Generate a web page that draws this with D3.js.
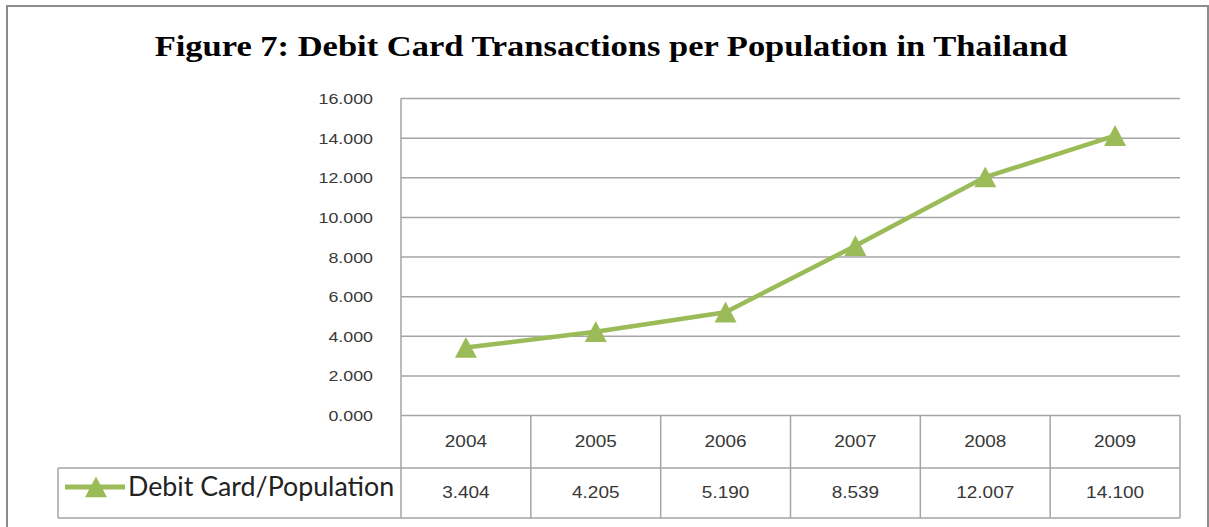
<!DOCTYPE html>
<html>
<head>
<meta charset="utf-8">
<script src="https://cdn.jsdelivr.net/npm/d3@7"></script>
<style>
  html, body { margin: 0; padding: 0; background: #fff; }
  svg { display: block; }
</style>
</head>
<body>
<svg id="chart" width="1209" height="527"></svg>
<script>
// Debit card transactions per head of population, Thailand
const title = "Figure 7: Debit Card Transactions per Population in Thailand";
const years = ["2004", "2005", "2006", "2007", "2008", "2009"];
const debitPerPopulation = [3.404, 4.205, 5.190, 8.539, 12.007, 14.100];
const seriesName = "Debit Card/Population";
const yTicks = [0, 2, 4, 6, 8, 10, 12, 14, 16];

const W = 1209, H = 527;
const green = "#9bbb59";
const gridColor = "#a5a5a5";
const textColor = "#383838";
const stretch = 1.15; // horizontal stretch applied to the lettering

const plot = { left: 401, right: 1180, top: 98, bottom: 415 };
const table = { legendLeft: 58, row1: 468, bottom: 518 };

const svg = d3.select("#chart");

const x = d3.scaleBand().domain(years).range([plot.left, plot.right]);
const y = d3.scaleLinear().domain([0, 16]).range([plot.bottom, plot.top]);
const fmt = d3.format(".3f");

// helper: text placed at (px, py) and widened by the stretch factor
function label(g, px, py, txt, opts) {
  return g.append("text")
    .attr("transform", `translate(${px},${py}) scale(${opts.sx ?? stretch},1)`)
    .attr("text-anchor", opts.anchor || "middle")
    .attr("font-family", opts.family || "'Liberation Sans', Arial, sans-serif")
    .attr("font-size", opts.size)
    .attr("font-weight", opts.weight || "normal")
    .attr("fill", opts.fill || textColor)
    .text(txt);
}

// outer frame
svg.append("rect")
  .attr("x", 7).attr("y", 6).attr("width", W - 8).attr("height", H + 10)
  .attr("fill", "#fff").attr("stroke", "#8c8c8c").attr("stroke-width", 2);

// title
label(svg, 611, 56, title, {
  size: 30, weight: "bold", family: "'Liberation Serif', 'Times New Roman', serif", fill: "#000"
});

// horizontal gridlines and y-axis labels
const yAxis = d3.axisLeft(y).tickValues(yTicks).tickSize(0).tickFormat(fmt);
const yg = svg.append("g").attr("transform", `translate(${plot.left},0)`).call(yAxis);
yg.select(".domain").remove();
yg.selectAll(".tick text").remove();
yg.selectAll(".tick").each(function(d) {
  const t = d3.select(this);
  t.append("line")
    .attr("x1", 0).attr("x2", plot.right - plot.left)
    .attr("stroke", gridColor).attr("stroke-width", 1.5);
  label(t, 373 - plot.left, 5.5, fmt(d), { size: 15.5, anchor: "end" });
});

// vertical axis line on the left of the plot
svg.append("line")
  .attr("x1", plot.left).attr("x2", plot.left)
  .attr("y1", y(16)).attr("y2", table.bottom)
  .attr("stroke", gridColor).attr("stroke-width", 1.5);

// data table below the plot
const tg = svg.append("g");
years.forEach((yr, i) => {
  const x1 = x(yr) + x.bandwidth();
  tg.append("line")
    .attr("x1", x1).attr("x2", x1)
    .attr("y1", plot.bottom).attr("y2", table.bottom)
    .attr("stroke", gridColor).attr("stroke-width", 1.5);
  const cx = x(yr) + x.bandwidth() / 2;
  label(tg, cx, 447, yr, { size: 16.5 });
  label(tg, cx, 498, fmt(debitPerPopulation[i]), { size: 16.5 });
});
[table.row1, table.bottom].forEach(ly => {
  tg.append("line")
    .attr("x1", table.legendLeft).attr("x2", plot.right)
    .attr("y1", ly).attr("y2", ly)
    .attr("stroke", gridColor).attr("stroke-width", 1.5);
});
tg.append("line")
  .attr("x1", table.legendLeft).attr("x2", table.legendLeft)
  .attr("y1", table.row1).attr("y2", table.bottom)
  .attr("stroke", gridColor).attr("stroke-width", 1.5);

// triangle marker, shifted so its bounding box is centred on the point
const triangle = d3.symbol().type(d3.symbolTriangle).size(190);
const markerXf = "translate(0,3.3) scale(1.05,1.15)";

// legend key in the table's first cell
tg.append("line")
  .attr("x1", 65).attr("x2", 125).attr("y1", 487).attr("y2", 487)
  .attr("stroke", green).attr("stroke-width", 5);
tg.append("path")
  .attr("d", triangle())
  .attr("transform", `translate(96,487) ${markerXf}`)
  .attr("fill", green);
label(tg, 128, 496, seriesName, {
  size: 26, anchor: "start", family: "Lato, 'Open Sans', sans-serif", sx: 1.03, fill: "#222"
});

// the series line with triangle markers
const line = d3.line()
  .x((d, i) => x(years[i]) + x.bandwidth() / 2)
  .y(d => y(d));
svg.append("path")
  .datum(debitPerPopulation)
  .attr("d", line)
  .attr("fill", "none")
  .attr("stroke", green)
  .attr("stroke-width", 4.5)
  .attr("stroke-linejoin", "round");
svg.append("g").selectAll("path")
  .data(debitPerPopulation)
  .join("path")
  .attr("d", triangle())
  .attr("transform", (d, i) => `translate(${x(years[i]) + x.bandwidth() / 2},${y(d)}) ${markerXf}`)
  .attr("fill", green);
</script>
</body>
</html>
